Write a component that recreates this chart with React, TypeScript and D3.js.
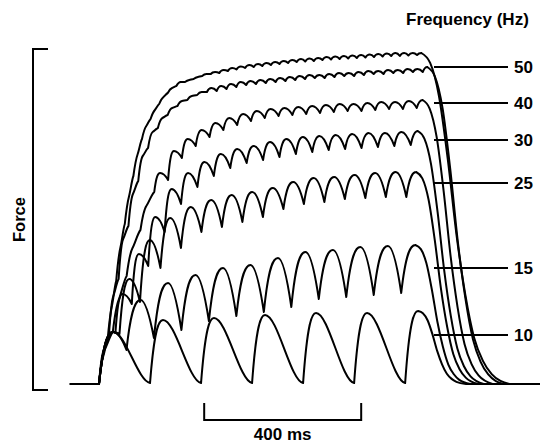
import React, { useEffect, useRef } from 'react';
import * as d3 from 'd3';

// One stimulus train per trace, top trace first. Force in arbitrary units.
const intervalsMs = [21.9, 25, 35.2, 41.8, 52.2, 70, 130];
const lagsMs = [11, 11.5, 15, 18, 25, 36, 33];
const firstLagsMs = [11, 11.5, 15, 36, 36, 36, 36];
const relaxMs = [224, 194, 178, 168, 158, 140, 122];

// force at each stimulus (trough) and at each twitch peak
const troughsA = [0, 44, 103, 160, 208, 245, 265, 280, 291, 298, 302, 305, 308, 310, 311, 313, 314.5, 316, 317, 318, 319, 320, 321, 322, 322.5, 323, 324, 324.5, 325, 325.5, 326, 326.5, 327, 327.5, 328, 328, 328.5, 329];
const peaksA = [28, 78, 137, 188, 230, 258, 274, 287, 296, 302, 304, 307, 310, 312, 314, 316, 317.5, 319, 320, 321, 322, 323, 324, 325, 325.5, 326, 327, 327.5, 328, 328.5, 329, 329.5, 330, 330.5, 331, 331, 331, 331];
const troughsB = [0, 47, 105, 158, 203, 236, 256, 269, 278, 284, 289, 292, 293, 295, 297, 299, 300, 301, 302, 303, 304, 305, 306, 306, 307, 308, 308, 309, 310, 310, 311, 311, 312, 312];
const peaksB = [33, 88, 145, 190, 228, 252, 266, 276, 283, 288, 292, 296, 298, 300, 302, 303, 304, 305, 306, 307, 308, 309, 309, 310, 311, 311, 312, 313, 313, 314, 314, 315, 315, 317];
const troughs40 = [0, 52, 108, 154, 192, 204, 226, 238, 247, 254, 259, 263, 266, 268, 269, 270, 271, 272, 273, 273, 274, 275, 275, 276];
const peaks40 = [35, 84, 136, 178, 211, 233, 245, 254, 261, 266, 270, 273, 275, 276, 277, 278, 279, 280, 280, 281, 282, 282, 283, 284];
const troughs30 = [0, 51, 80, 118, 152, 180, 197, 208, 216, 221, 224, 227, 230, 232, 234, 235, 236, 237, 238, 239];
const peaks30 = [52, 90, 130, 167, 195, 211, 222, 230, 235, 238, 242, 245, 247, 248, 249, 250, 251, 251, 252, 253];
const troughs25 = [0, 50, 82, 116, 136, 152, 157, 162, 167, 175, 180, 182, 185, 186, 187, 187];
const peaks25 = [52, 105, 144, 166, 177, 184, 189, 192, 196, 202, 206, 207, 209, 211, 212, 212];
const troughs15 = [0, 34, 46, 54, 63, 68, 72, 77, 85, 87, 89, 91];
const peaks15 = [52, 84, 101, 109, 116, 119, 126, 132, 134, 137, 138, 139];
const troughs10 = [0, 1, 1, 1, 1, 1, 1];
const peaks10 = [52, 64, 66, 69, 71, 71, 73];

// relaxation after the last stimulus (fraction of last peak)
const relaxU = [0, 0.1, 0.2, 0.3, 0.4, 0.5, 0.6, 0.7, 0.8, 1];
const relaxFrac = [1, 0.97, 0.87, 0.68, 0.45, 0.27, 0.14, 0.07, 0.03, 0];

const labels = ['50', '40', '30', '25', '15', '10'];
const labelForce = [317, 281, 244, 201, 116, 49];
const scaleBarMs = [268, 668];

const startMs = -72;
const endMs = 1125;

const App: React.FC = () => {
  const svgRef = useRef<SVGSVGElement | null>(null);

  useEffect(() => {
    const width = 540;
    const height = 444;
    const svg = d3.select(svgRef.current);
    svg.selectAll('*').remove();
    svg.attr('width', width).attr('height', height);

    const x = d3.scaleLinear().domain([0, 400]).range([99, 256]);
    const y = d3.scaleLinear().domain([-6, 335]).range([390, 49]);

    const traces = [
      [troughsA, peaksA], [troughsB, peaksB], [troughs40, peaks40], [troughs30, peaks30],
      [troughs25, peaks25], [troughs15, peaks15], [troughs10, peaks10],
    ].map(([troughs, peaks], i) => ({
      troughs, peaks,
      interval: intervalsMs[i], lag: lagsMs[i], firstLag: firstLagsMs[i], relax: relaxMs[i],
    }));

    const hermite = (p: d3.Path, x0: number, y0: number, m0: number, x1: number, y1: number, m1: number) => {
      const h = (x1 - x0) / 3;
      p.bezierCurveTo(x0 + h, y0 + m0 * h, x1 - h, y1 - m1 * h, x1, y1);
    };

    const tracePath = (tr: typeof traces[number]) => {
      const p = d3.path();
      p.moveTo(x(startMs), y(0));
      p.lineTo(x(0), y(0));
      const n = tr.troughs.length;
      let lastPeakMs = 0;
      for (let k = 0; k < n; k++) {
        const s = k * tr.interval;
        const pk = s + (k === 0 ? tr.firstLag : tr.lag);
        const last = k === n - 1;
        const x0 = x(s), y0 = y(tr.troughs[k]);
        const x1 = x(pk), y1 = y(tr.peaks[k]);
        const x2 = last ? 0 : x((k + 1) * tr.interval);
        const y2 = last ? 0 : y(tr.troughs[k + 1]);
        const arch = last || tr.peaks[k] > tr.troughs[k + 1];
        const m1 = arch ? 0 : 0.8 * (y2 - y1) / (x2 - x1);
        const m0 = arch ? 2.6 * (y1 - y0) / (x1 - x0) : 2 * (y1 - y0) / (x1 - x0) - m1;
        hermite(p, x0, y0, m0, x1, y1, m1);
        if (last) { lastPeakMs = pk; break; }
        if (arch) {
          const q = (tr.peaks[k] - tr.troughs[k + 1]) / tr.peaks[k];
          const m2 = 2 * (y2 - y1) / (x2 - x1) * (1 - q * q * q);
          hermite(p, x1, y1, 0, x2, y2, m2);
        } else {
          hermite(p, x1, y1, m1, x2, y2, 0.5 * (y2 - y1) / (x2 - x1));
        }
      }
      const lastPeak = tr.peaks[n - 1];
      const relaxLine = d3.line<number>()
        .x(u => x(lastPeakMs + u * tr.relax))
        .y((u, i) => y(lastPeak * relaxFrac[i]))
        .curve(d3.curveMonotoneX)(relaxU) as string;
      return p.toString() + relaxLine + `L${x(endMs)},${y(0)}`;
    };

    // Traces
    svg.append('g')
      .selectAll('path')
      .data(traces)
      .enter()
      .append('path')
      .attr('d', d => tracePath(d))
      .attr('fill', 'none')
      .attr('stroke', '#000')
      .attr('stroke-width', 2)
      .attr('stroke-linejoin', 'round')
      .attr('stroke-linecap', 'round');

    const font = '"Liberation Sans", Arial, sans-serif';

    // Force bracket
    const [yBottom, yTop] = y.range();
    svg.append('path')
      .attr('d', `M48,${yTop}H33V${yBottom}H48`)
      .attr('fill', 'none')
      .attr('stroke', '#000')
      .attr('stroke-width', 2);

    svg.append('text')
      .attr('transform', `translate(25,${(yTop + yBottom) / 2}) rotate(-90)`)
      .attr('text-anchor', 'middle')
      .attr('font-family', font)
      .attr('font-weight', 'bold')
      .attr('font-size', 16.5)
      .text('Force');

    // Frequency labels
    svg.append('text')
      .attr('x', 406)
      .attr('y', 25)
      .attr('font-family', font)
      .attr('font-weight', 'bold')
      .attr('font-size', 17)
      .text('Frequency (Hz)');

    const lab = svg.append('g')
      .selectAll('g')
      .data(labels)
      .enter()
      .append('g');
    lab.append('line')
      .attr('x1', 434)
      .attr('x2', 508)
      .attr('y1', (d, i) => y(labelForce[i]))
      .attr('y2', (d, i) => y(labelForce[i]))
      .attr('stroke', '#000')
      .attr('stroke-width', 2);
    lab.append('text')
      .attr('x', 514)
      .attr('y', (d, i) => y(labelForce[i]))
      .attr('dy', '0.36em')
      .attr('font-family', font)
      .attr('font-weight', 'bold')
      .attr('font-size', 17)
      .text(d => d);

    // Time scale bar
    const [b0, b1] = scaleBarMs.map(t => x(t));
    svg.append('path')
      .attr('d', `M${b0},403V420H${b1}V403`)
      .attr('fill', 'none')
      .attr('stroke', '#000')
      .attr('stroke-width', 2);
    svg.append('text')
      .attr('x', (b0 + b1) / 2)
      .attr('y', 440)
      .attr('text-anchor', 'middle')
      .attr('font-family', font)
      .attr('font-weight', 'bold')
      .attr('font-size', 17)
      .text(`${scaleBarMs[1] - scaleBarMs[0]} ms`);
  }, []);

  return (
    <svg ref={svgRef} style={{ position: 'absolute', left: 0, top: 0, background: '#fff' }}></svg>
  );
};

export default App;
